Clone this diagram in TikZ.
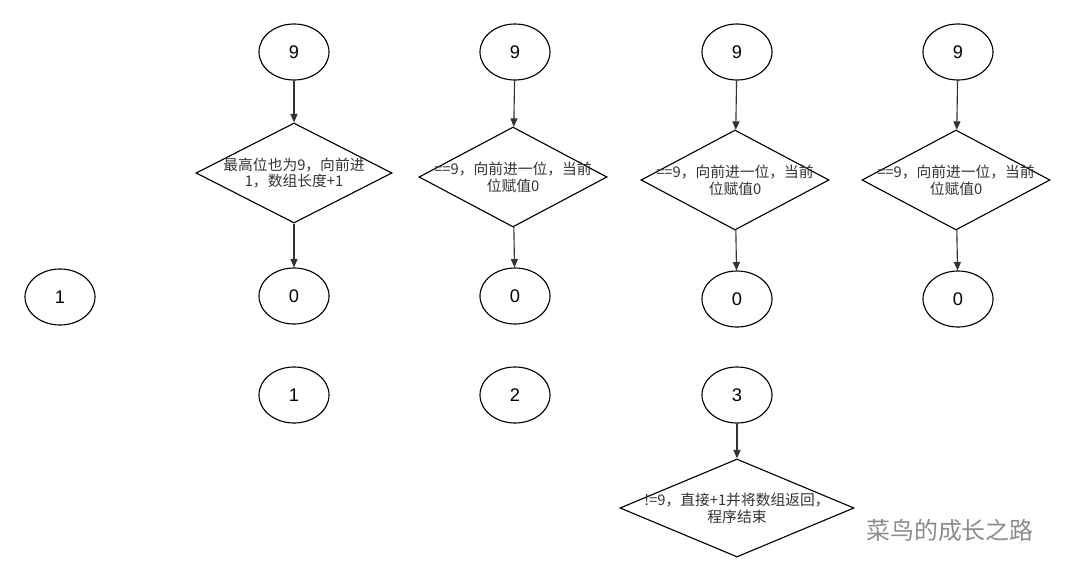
\documentclass[tikz,border=0pt]{standalone}
\usepackage{fontspec}
\setmainfont{Liberation Sans}
\newfontfamily\cjk{Noto Sans CJK SC}
\usetikzlibrary{shapes.geometric,arrows.meta}
\tikzset{
  num/.style={draw,thick,ellipse,minimum width=1.75cm,minimum height=1.4cm,font=\fontsize{13}{13}\selectfont},
  dia/.style={draw,thick,diamond,inner sep=0pt},
  txt/.style={font=\cjk\fontsize{10.5}{12}\selectfont,align=center,text=black!80},
  arr/.style={->,thick,>={Triangle[length=6pt,width=5pt]},black!80}
}
\begin{document}
\begin{tikzpicture}[x=0.025cm,y=-0.025cm]
        \useasboundingbox (0,0) rectangle (1080,579);

        \node[num](one)at(60,297){1};

        % column 1
        \node[num](a9)at(294,52){9};
        \node[dia,minimum width=4.9cm,minimum height=2.5cm](ad)at(294,173){};
        \node[txt]at(ad){最高位也为9，向前进\\1，数组长度+1};
        \node[num](a0)at(294,296){0};
        \node[num](a1)at(294,395){1};
        \draw[arr](a9)--(ad);
        \draw[arr](ad)--(a0);

        % column 2
        \node[num](b9)at(515,52){9};
        \node[dia,minimum width=4.7cm,minimum height=2.5cm](bd)at(513,177){};
        \node[txt]at(bd){==9，向前进一位，当前\\位赋值0};
        \node[num](b0)at(515,296){0};
        \node[num](b2)at(515,395){2};
        \draw[arr](b9)--(bd);
        \draw[arr](bd)--(b0);

        % column 3
        \node[num](c9)at(737,52){9};
        \node[dia,minimum width=4.7cm,minimum height=2.5cm](cd)at(735,180){};
        \node[txt]at(cd){==9，向前进一位，当前\\位赋值0};
        \node[num](c0)at(737,299){0};
        \node[num](c3)at(737,395){3};
        \draw[arr](c9)--(cd);
        \draw[arr](cd)--(c0);
        \node[dia,minimum width=5.85cm,minimum height=2.45cm](cx)at(737,508){};
        \node[txt]at(cx){!=9，直接+1并将数组返回，\\程序结束};
        \draw[arr](c3)--(cx);

        % column 4
        \node[num](e9)at(958,52){9};
        \node[dia,minimum width=4.7cm,minimum height=2.5cm](ed)at(956,180){};
        \node[txt]at(ed){==9，向前进一位，当前\\位赋值0};
        \node[num](e0)at(958,299){0};
        \draw[arr](e9)--(ed);
        \draw[arr](ed)--(e0);

        \node[font=\cjk\fontsize{17}{17}\selectfont,text=black!45](wm)at(950,530){菜鸟的成长之路};
\end{tikzpicture}
\end{document}
